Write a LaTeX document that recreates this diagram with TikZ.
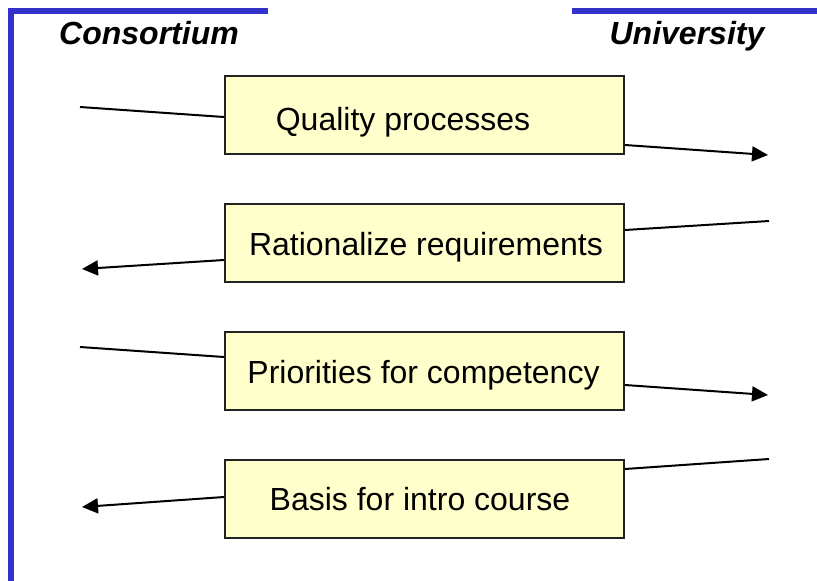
\documentclass[tikz,border=0pt]{standalone}
\usepackage{fontspec}
\setmainfont{Liberation Sans}
\usetikzlibrary{arrows.meta}
\definecolor{frameblue}{HTML}{3333CC}
\definecolor{boxfill}{HTML}{FFFFCC}
\definecolor{boxline}{HTML}{222222}
\tikzset{
  frameline/.style={draw=frameblue, line width=6pt},
  flowbox/.style={rectangle, draw=boxline, fill=boxfill, line width=2pt,
    minimum width=399pt, minimum height=78pt, inner sep=0pt},
  boxtext/.style={anchor=base, inner sep=0pt, font=\fontsize{32}{38}\selectfont},
  headtext/.style={anchor=base, inner sep=0pt, font=\fontsize{32}{38}\selectfont\bfseries\itshape},
  conn/.style={draw=black, line width=2pt},
  arr/.style={conn, -{Triangle[length=16pt,width=15pt]}}
}
\begin{document}
\begin{tikzpicture}[x=1pt,y=-1pt]
\useasboundingbox (0,0) rectangle (817,581);
% frame lines
\coordinate (fl1) at (11,8);
\coordinate (fl2) at (11,581);
\coordinate (ft1) at (8,11);
\coordinate (ft2) at (268,11);
\coordinate (fr1) at (572,11);
\coordinate (fr2) at (817,11);
\draw[frameline] (fl1) -- (fl2);
\draw[frameline] (ft1) -- (ft2);
\draw[frameline] (fr1) -- (fr2);
% headings
\node[headtext] (hc) at (149,44) {Consortium};
\node[headtext] (hu) at (687,44) {University};
% boxes
\node[flowbox] (b1) at (424.5,115) {};
\node[flowbox] (b2) at (424.5,243) {};
\node[flowbox] (b3) at (424.5,371) {};
\node[flowbox] (b4) at (424.5,499) {};
\node[boxtext] (t1) at (403,130) {Quality processes};
\node[boxtext] (t2) at (426,255) {Rationalize requirements};
\node[boxtext] (t3) at (423.5,383) {Priorities for competency};
\node[boxtext] (t4) at (420,510) {Basis for intro course};
% connector ends
\coordinate (l1) at (80,107);
\coordinate (r1) at (768,155);
\coordinate (r2) at (769,221);
\coordinate (l2) at (82,269);
\coordinate (l3) at (80,347);
\coordinate (r3) at (768,395);
\coordinate (r4) at (769,459);
\coordinate (l4) at (82,507);
% connectors
\draw[conn] (l1) -- (b1.west |- 0,117);
\draw[arr] (b1.east |- 0,145) -- (r1);
\draw[conn] (r2) -- (b2.east |- 0,230);
\draw[arr] (b2.west |- 0,260) -- (l2);
\draw[conn] (l3) -- (b3.west |- 0,357);
\draw[arr] (b3.east |- 0,385) -- (r3);
\draw[conn] (r4) -- (b4.east |- 0,469);
\draw[arr] (b4.west |- 0,497) -- (l4);
\end{tikzpicture}
\end{document}
